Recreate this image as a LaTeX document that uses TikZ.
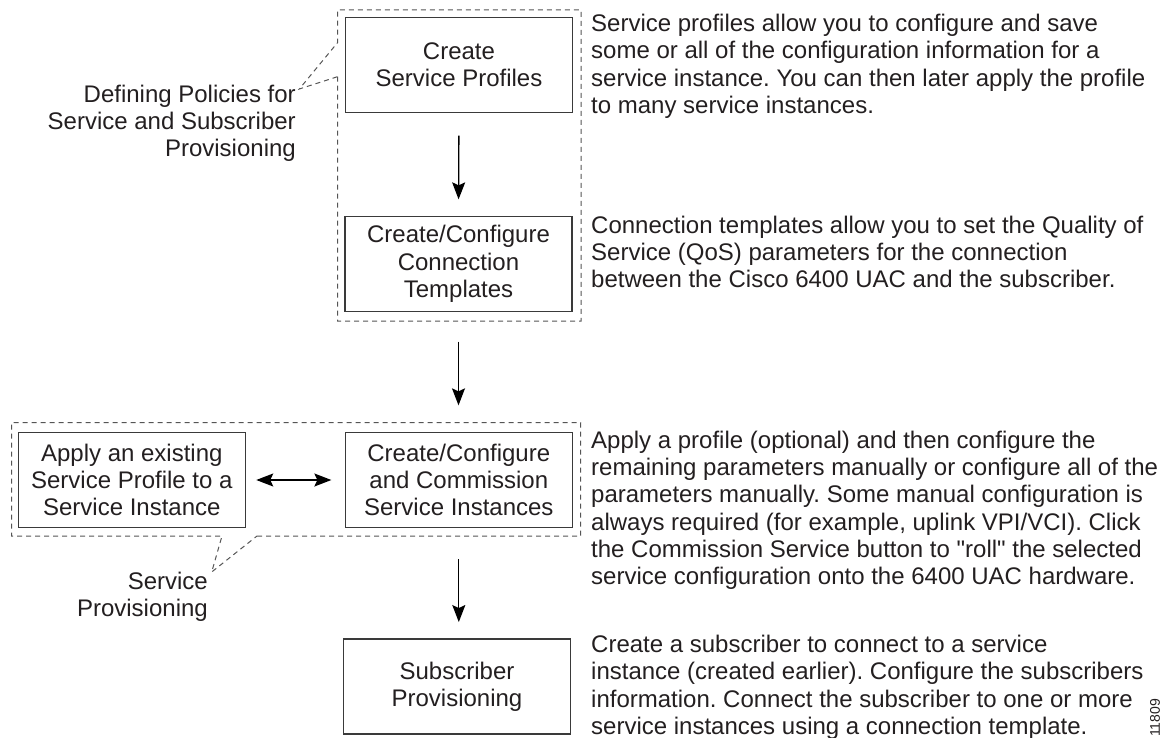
\documentclass[tikz,border=0pt]{standalone}
\usepackage{fontspec}
\setmainfont{Liberation Sans}[Ligatures=TeXOff]
\usetikzlibrary{arrows.meta}
\definecolor{txt}{HTML}{231F20}
\definecolor{boxline}{HTML}{3A3A3A}
\definecolor{dashline}{HTML}{555555}
\frenchspacing
\begin{document}
\begin{tikzpicture}[x=1pt,y=-1pt,
  every node/.style={font=\fontsize{24}{27.3}\selectfont, text=txt, inner sep=0pt},
  procbox/.style={draw=boxline, line width=1.3pt, minimum width=227pt, minimum height=95pt, align=center},
  note/.style={anchor=base west, align=left},
  sidelabel/.style={anchor=base east, align=right},
  flow/.style={-{Stealth[length=17pt,width=13pt,inset=3pt]}, line width=1.3pt, black},
  bothflow/.style={{Stealth[length=17pt,width=13pt,inset=3pt]}-{Stealth[length=17pt,width=13pt,inset=3pt]}, line width=1.3pt, black},
  frame/.style={draw=dashline, line width=1pt, dash pattern=on 5pt off 4pt}]
\useasboundingbox (0,0) rectangle (1176,738);

% process boxes
\node[procbox] (prof) at (459,65) {Create\\Service Profiles};
\node[procbox] (tmpl) at (458.5,264) {Create/Configure\\Connection\\Templates};
\node[procbox] (apply) at (131.8,480) {Apply an existing\\Service Profile to a\\Service Instance};
\node[procbox] (inst) at (458.8,480) {Create/Configure\\and Commission\\Service Instances};
\node[procbox] (subs) at (457,686.5) {Subscriber\\Provisioning};

% group frames with callout notches
\coordinate (tipA) at (299.3,89);
\coordinate (tipB) at (211.7,572);
\draw[frame] (337.5,76.7) -- (337.5,321) -- (581,321) -- (581,10) -- (337.5,10) -- (337.5,42.7) -- (tipA) -- cycle;
\draw[frame] (257,536) -- (580.6,536) -- (580.6,422.7) -- (11.5,422.7) -- (11.5,536) -- (222,536) -- (tipB) -- cycle;

% side labels (anchored at the baseline of their last line)
\node[sidelabel] (lblA) at (296,156.7) {Defining Policies for\\Service and Subscriber\\Provisioning};
\node[sidelabel] (lblB) at (208,616.7) {Service\\Provisioning};

% connectors
\draw[flow, shorten <=22.5pt, shorten >=16.5pt] (prof.south) -- (tmpl.north);
\draw[flow, shorten <=29.5pt, shorten >=26.5pt] (tmpl.south) -- (tmpl.south |- inst.north);
\draw[flow, shorten <=31pt, shorten >=16.3pt] (inst.south) -- (inst.south |- subs.north);
\draw[bothflow, shorten <=10.3pt, shorten >=13.3pt] (apply.east) -- (inst.west);

% notes (anchored at the baseline of their last line)
\node[note] (n1) at (591,113.6) {Service profiles allow you to configure and save\\some or all of the configuration information for a\\service instance. You can then later apply the profile\\to many service instances.};
\node[note] (n2) at (591,287.8) {Connection templates allow you to set the Quality of\\Service (QoS) parameters for the connection\\between the Cisco 6400 UAC and the subscriber.};
\node[note] (n3) at (591,584.8) {Apply a profile (optional) and then configure the\\remaining parameters manually or configure all of the\\parameters manually. Some manual configuration is\\always required (for example, uplink VPI/VCI). Click\\the Commission Service button to "roll" the selected\\service configuration onto the 6400 UAC hardware.};
\node[note] (n4) at (591,734.5) {Create a subscriber to connect to a service\\instance (created earlier). Configure the subscribers\\information. Connect the subscriber to one or more\\service instances using a connection template.};

\node[rotate=90, font=\fontsize{14}{16}\selectfont] (fig) at (1155,718) {11809};
\end{tikzpicture}
\end{document}
